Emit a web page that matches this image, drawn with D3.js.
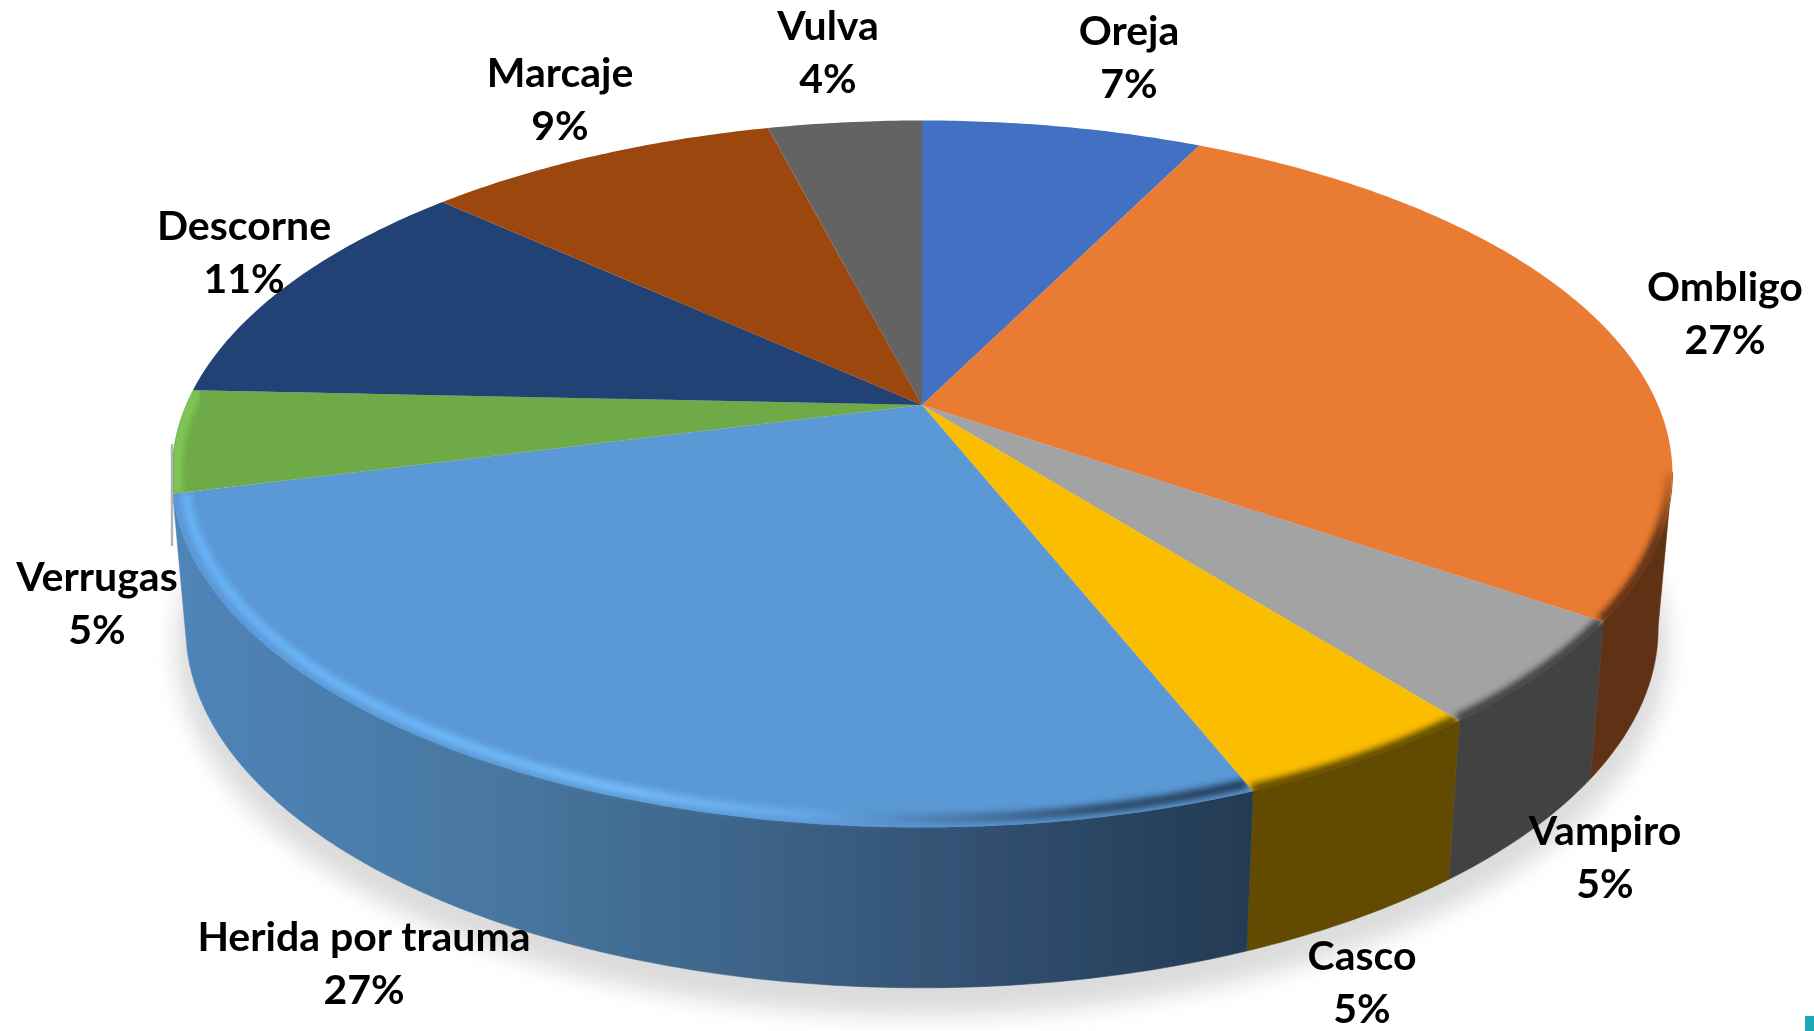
<!DOCTYPE html>
<html>
<head>
<meta charset="utf-8">
<style>
	html, body { margin: 0; padding: 0; background: #fff; overflow: hidden; }
	text { font-family: Lato, "Open Sans", sans-serif; font-weight: 700; font-size: 41px; fill: #050505; }
</style>
<script src="https://cdn.jsdelivr.net/npm/d3@7"></script>
</head>
<body>
<svg width="1814" height="1031"></svg>
<script>
// the data
const categories = ['Oreja', 'Ombligo', 'Vampiro', 'Casco', 'Herida por trauma', 'Verrugas', 'Descorne', 'Marcaje', 'Vulva'];
const shares = [7.3, 27.3, 4.8, 4.6, 27, 4.7, 11.1, 9.2, 4];

// colours of the top face and of the rim
const topColors = ['#4270c2', '#e97b31', '#a3a3a3', '#fbbd00', '#5a98d6', '#6eaa46', '#244276', '#9b460d', '#636363'];
const sideColors = [null, '#5f3114', '#434343', '#624c00', 'url(#blueSide)', null, null, null, null];
const rimColors = [null, 'url(#orangeRim)', '#434343', '#624c00', 'url(#blueRim)', '#80c757', null, null, null];

// label anchors, middle of the name line
const labelSpots = [[1129, 32], [1725, 288], [1605, 832], [1362, 957], [364, 938], [97, 578], [244, 227], [560, 74], [828, 27]];

var svg = d3.select('svg');
var defs = svg.append('defs');

// tilted circle seen in perspective
const k = 0.195;
const cx = 922;
const topRing = { x: cx, y: 405, a: 736, b: 340 };
const bottomRing = { x: cx, y: 558, a: 722, b: 346 };
const visibleFrom = 101 * Math.PI / 180;
const visibleTo = 255.6 * Math.PI / 180;

function project(ring, angle, r) {
	let u = r * Math.sin(angle),
		v = r * Math.cos(angle),
		w = 1 + k * v;
	return [ ring.x + ring.a * u / w, ring.y - ring.b * v / w ];
}

function arcPoints(ring, a0, a1, r) {
	let n = Math.max(2, Math.ceil((a1 - a0) * 90));
	return d3.range(n + 1).map((i) => project(ring, a0 + (a1 - a0) * i / n, r));
}

const closed = d3.line().curve(d3.curveLinearClosed);
const open = d3.line();

const pie = d3.pie().sort(null).value((d) => d.share);
const slices = pie(categories.map((c, i) => ({ name: c, share: shares[i], i: i })));

// filters
defs.append('filter').attr('id', 'shadow').attr('x', '-10%').attr('y', '-10%').attr('width', '120%').attr('height', '120%')
	.append('feGaussianBlur').attr('stdDeviation', 11);
defs.append('filter').attr('id', 'soft').attr('x', '-10%').attr('y', '-10%').attr('width', '120%').attr('height', '120%')
	.append('feGaussianBlur').attr('stdDeviation', 3.2);
defs.append('filter').attr('id', 'scan').attr('x', '0').attr('y', '0').attr('width', '100%').attr('height', '100%')
	.append('feGaussianBlur').attr('stdDeviation', 0.7);

// gradients for the rim
function gradient(id, x1, x2, y1, y2, stops) {
	let g = defs.append('linearGradient').attr('id', id)
		.attr('gradientUnits', 'userSpaceOnUse')
		.attr('x1', x1).attr('x2', x2).attr('y1', y1).attr('y2', y2);
	stops.forEach((s) => g.append('stop').attr('offset', s[0]).attr('stop-color', s[1]));
}
gradient('blueSide', 186, 1250, 0, 0, [[0, '#4f84b8'], [0.3, '#47769f'], [0.55, '#3c6286'], [0.8, '#2e4b6b'], [1, '#243b54']]);
gradient('blueRim', 172, 1258, 0, 0, [[0, '#66b2f6'], [0.42, '#74baf9'], [0.58, '#66aae8'], [0.7, '#4d80b2'], [0.85, '#2f4d6d'], [1, '#243b54']]);
gradient('orangeRim', 0, 0, 460, 540, [[0, '#e97b31'], [1, '#5f3114']]);

var chart = svg.append('g').attr('filter', 'url(#scan)');

// shadow under the pie
chart.append('path')
	.attr('d', closed(arcPoints(bottomRing, 0, 2 * Math.PI, 1)))
	.attr('transform', 'translate(0,18)')
	.attr('fill', '#dcdcdc')
	.attr('stroke', '#dcdcdc')
	.attr('stroke-width', 20)
	.attr('filter', 'url(#shadow)');

// rim walls
function sideRange(d) {
	return [ Math.max(d.startAngle, visibleFrom), Math.min(d.endAngle, visibleTo) ];
}
function sidePoints(d) {
	let r = sideRange(d);
	return arcPoints(topRing, r[0], r[1], 1).concat(arcPoints(bottomRing, r[0], r[1], 1).reverse());
}

chart.append('g')
	.selectAll('path')
	.data(slices.filter((d) => sideColors[d.data.i]))
	.enter()
	.append('path')
	.attr('d', (d) => closed(sidePoints(d)))
	.attr('fill', (d) => sideColors[d.data.i])
	.attr('stroke', (d) => sideColors[d.data.i])
	.attr('stroke-width', 0.6);

// top faces
chart.append('g')
	.selectAll('path')
	.data(slices)
	.enter()
	.append('path')
	.attr('d', (d) => closed([ project(topRing, 0, 0) ].concat(arcPoints(topRing, d.startAngle, d.endAngle, 1))))
	.attr('fill', (d) => topColors[d.data.i]);

// soft bevel along the front edge, kept inside its own slice and wall
const rimmed = slices.filter((d) => rimColors[d.data.i]);

defs.selectAll('clipPath')
	.data(rimmed)
	.enter()
	.append('clipPath')
	.attr('id', (d) => 'clip' + d.data.i)
	.append('path')
	.attr('d', function(d) {
		let apex = project(topRing, 0, 0);
		if (d.data.i == 5) return closed([ apex ].concat(arcPoints(topRing, d.startAngle, d.endAngle, 1)));
		let r = sideRange(d);
		let outline = [ apex ];
		if (d.startAngle < r[0]) outline = outline.concat(arcPoints(topRing, d.startAngle, r[0], 1));
		else outline.push(project(topRing, r[0], 1));
		outline = outline.concat(arcPoints(bottomRing, r[0], r[1], 1));
		outline.push(project(topRing, r[1], 1));
		return closed(outline);
	});

chart.append('g')
	.selectAll('g')
	.data(rimmed)
	.enter()
	.append('g')
	.attr('clip-path', (d) => 'url(#clip' + d.data.i + ')')
	.append('path')
	.attr('d', function(d) {
		let r = d.data.i == 5 ? [ d.startAngle, d.endAngle ] : sideRange(d);
		let inset = d.data.i == 4 ? 0.984 : d.data.i == 5 ? 0.994 : 0.997;
		return open(arcPoints(topRing, r[0], r[1], inset));
	})
	.attr('fill', 'none')
	.attr('stroke', (d) => rimColors[d.data.i])
	.attr('stroke-width', (d) => d.data.i == 4 ? 10 : 11)
	.attr('filter', 'url(#soft)');

// thin grey line left of the pie
chart.append('line')
	.attr('x1', 172).attr('x2', 172)
	.attr('y1', 444).attr('y2', 546)
	.attr('stroke', '#b4b4b4')
	.attr('stroke-width', 2.5);

// corner of the next shape on the slide
chart.append('rect')
	.attr('x', 1805).attr('y', 1016)
	.attr('width', 9).attr('height', 15)
	.attr('fill', '#1ea8b4');

// labels
var labels = chart.append('g')
	.selectAll('g')
	.data(slices)
	.enter()
	.append('g')
	.attr('text-anchor', 'middle')
	.attr('transform', (d) => `translate(${labelSpots[d.data.i][0]},${labelSpots[d.data.i][1]})`);

labels.append('text')
	.attr('y', 13)
	.text((d) => d.data.name);
labels.append('text')
	.attr('y', 66)
	.text((d) => d3.format('.0f')(d.data.share) + '%');
</script>
</body>
</html>
